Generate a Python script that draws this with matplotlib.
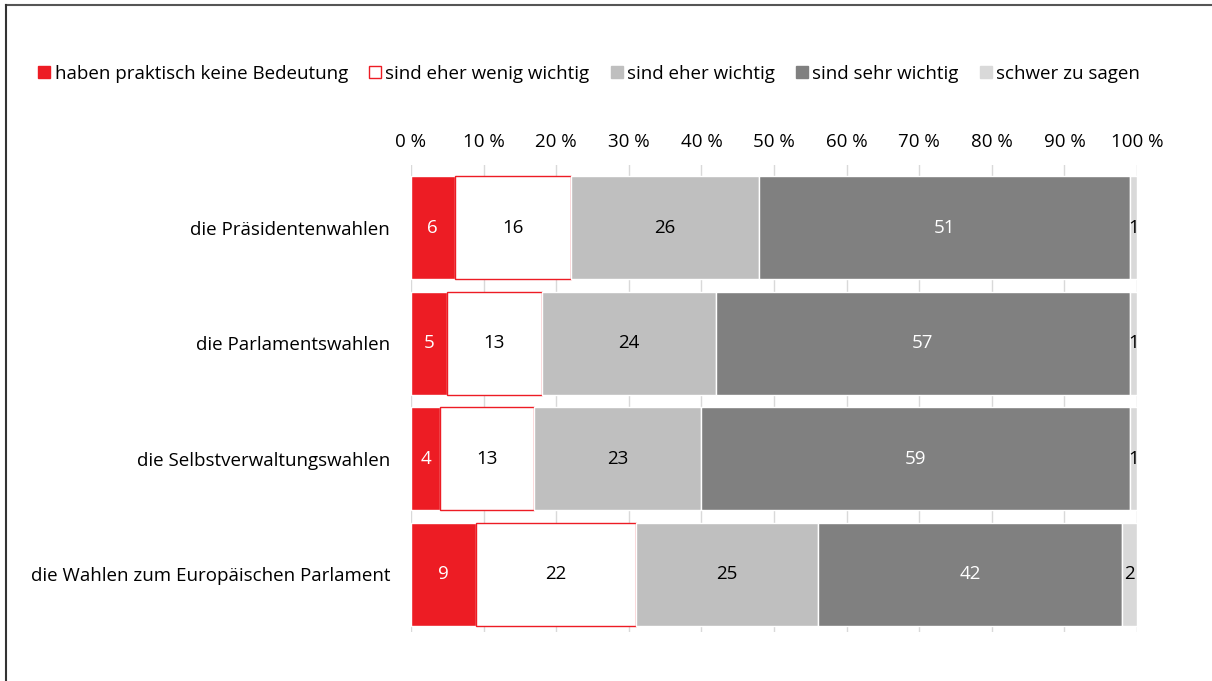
import numpy as np
import matplotlib.pyplot as plt
from matplotlib.lines import Line2D

plt.rcParams['font.family'] = ['Open Sans', 'DejaVu Sans']

categories = ['die Präsidentenwahlen', 'die Parlamentswahlen',
              'die Selbstverwaltungswahlen', 'die Wahlen zum Europäischen Parlament']
series = ['haben praktisch keine Bedeutung', 'sind eher wenig wichtig',
          'sind eher wichtig', 'sind sehr wichtig', 'schwer zu sagen']
keine = [6, 5, 4, 9]
wenig = [16, 13, 13, 22]
eher = [26, 24, 23, 25]
sehr = [51, 57, 59, 42]
schwer = [1, 1, 1, 2]
ticks = [0, 10, 20, 30, 40, 50, 60, 70, 80, 90, 100]

values = [keine, wenig, eher, sehr, schwer]
colors = ['#ED1C24', '#FFFFFF', '#BFBFBF', '#808080', '#D9D9D9']
edges = ['white', '#ED1C24', 'white', 'white', 'white']
text_colors = ['white', 'black', 'black', 'white', 'black']

fs = 13.5

fig = plt.figure(figsize=(12.12, 6.81), dpi=100)
ax = fig.add_axes([0.3391, 0.072, 0.599, 0.6853])

y = np.arange(len(categories))
left = np.zeros(len(categories))
for vals, c, ec, tc, name in zip(values, colors, edges, text_colors, series):
    vals = np.array(vals, dtype=float)
    ax.barh(y, vals, left=left, height=0.89, color=c, edgecolor=ec,
            linewidth=1, label=name, zorder=3)
    for yi, v, l in zip(y, vals, left):
        ax.text(l + v / 2, yi, f'{int(v)}', ha='center', va='center',
                color=tc, fontsize=fs, zorder=4)
    left += vals

ax.set_xlim(0, 100)
ax.set_ylim(3.5, -0.54)
ax.set_yticks(y)
ax.set_yticklabels(categories, fontsize=fs)
ax.set_xticks(ticks)
ax.set_xticklabels([f'{t}\u00a0%' for t in ticks], fontsize=fs)
ax.xaxis.tick_top()
ax.tick_params(axis='x', length=0, pad=10)
ax.tick_params(axis='y', length=0, pad=15)
ax.grid(axis='x', color='#D9D9D9', linewidth=1, zorder=0)
for s in ax.spines.values():
    s.set_visible(False)

handles = [Line2D([], [], marker='s', linestyle='none', markersize=8.5,
                  markerfacecolor=c, markeredgecolor=(ec if c == '#FFFFFF' else c))
           for c, ec in zip(colors, edges)]
fig.legend(handles, series, loc='center left', bbox_to_anchor=(0.015, 0.892),
           ncol=5, frameon=False, fontsize=fs, handletextpad=0.05,
           columnspacing=0.95, handlelength=1.0)

# frame lines at top and left
fig.add_artist(Line2D([0.005, 1.0], [0.993, 0.993], color='#555555', linewidth=1.5))
fig.add_artist(Line2D([0.005, 0.005], [0.0, 0.993], color='#333333', linewidth=1.5))

fig.savefig('out.png', dpi=100)
